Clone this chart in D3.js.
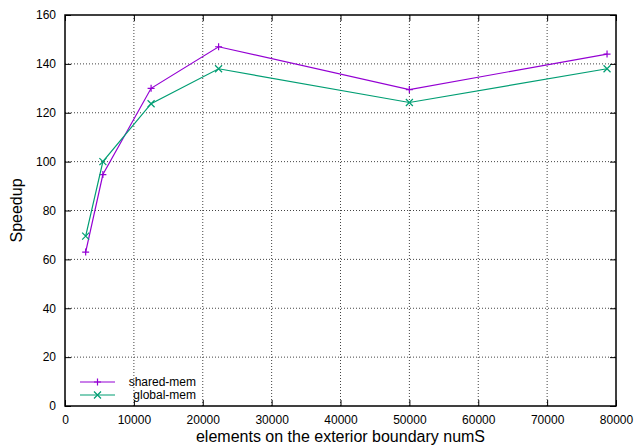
<!DOCTYPE html>
<html><head><meta charset="utf-8">
<script src="https://cdn.jsdelivr.net/npm/d3@7"></script>
<style>body{margin:0;background:#fff}svg{display:block}text{font-family:"Liberation Sans",Arial,sans-serif}</style>
</head><body><svg id="c" width="637" height="448"></svg>
<script>
const xNums = [3000, 5500, 12500, 22300, 50000, 78700];
const sharedMem = [63, 94.7, 130, 147, 129.5, 144];
const globalMem = [69.5, 100, 123.7, 138, 124.2, 138];
const seriesNames = ["shared-mem", "global-mem"];
const xTicks = [0,10000,20000,30000,40000,50000,60000,70000,80000];
const yTicks = [0,20,40,60,80,100,120,140,160];

const svg = d3.select("#c");
const L=65,R=616,T=15,B=406;
const x = d3.scaleLinear().domain([0,80000]).range([L,R]);
const y = d3.scaleLinear().domain([0,160]).range([B,T]);

// grid
const g = svg.append("g");
xTicks.slice(1,-1).forEach(t=>g.append("line").attr("x1",x(t)).attr("x2",x(t)).attr("y1",T).attr("y2",B)
  .attr("stroke","#444").attr("stroke-width",1).attr("stroke-dasharray","1,2"));
yTicks.slice(1,-1).forEach(t=>g.append("line").attr("x1",L).attr("x2",R).attr("y1",y(t)).attr("y2",y(t))
  .attr("stroke","#444").attr("stroke-width",1).attr("stroke-dasharray","1,2"));

// axes
const ax = svg.append("g").attr("transform",`translate(0,${B})`).call(d3.axisBottom(x).tickValues(xTicks).tickFormat(d3.format("d")).tickSize(-6).tickPadding(9));
const ay = svg.append("g").attr("transform",`translate(${L},0)`).call(d3.axisLeft(y).tickValues(yTicks).tickSize(-6).tickPadding(9));
const axT = svg.append("g").attr("transform",`translate(0,${T})`).call(d3.axisTop(x).tickValues(xTicks).tickFormat("").tickSize(-6));
const ayR = svg.append("g").attr("transform",`translate(${R},0)`).call(d3.axisRight(y).tickValues(yTicks).tickFormat("").tickSize(-6));
[ax,ay,axT,ayR].forEach(a=>{a.select(".domain").remove();a.selectAll("line").attr("stroke","#000");a.selectAll("text").attr("font-size",12).attr("fill","#000").attr("font-family","Liberation Sans, Arial, sans-serif");});
svg.append("rect").attr("x",L).attr("y",T).attr("width",R-L).attr("height",B-T).attr("fill","none").attr("stroke","#000").attr("stroke-width",1.5);

// titles
svg.append("text").attr("x",(L+R)/2).attr("y",442).attr("text-anchor","middle").attr("font-size",16).text("elements on the exterior boundary numS");
svg.append("text").attr("transform",`translate(22,${(T+B)/2}) rotate(-90)`).attr("text-anchor","middle").attr("font-size",16).text("Speedup");

const colors = ["#9400d3","#009e73"];
const data = [sharedMem, globalMem];
const line = d3.line().x((d,i)=>x(xNums[i])).y(d=>y(d));
function marker(sel,type,cx,cy,col){
  const s=3.5;
  if(type===0){
    sel.append("path").attr("d",`M${cx-s},${cy}H${cx+s}M${cx},${cy-s}V${cy+s}`).attr("stroke",col).attr("stroke-width",1.2);
  } else {
    sel.append("path").attr("d",`M${cx-s},${cy-s}L${cx+s},${cy+s}M${cx-s},${cy+s}L${cx+s},${cy-s}`).attr("stroke",col).attr("stroke-width",1.2);
  }
}
data.forEach((vals,k)=>{
  svg.append("path").datum(vals).attr("d",line).attr("fill","none").attr("stroke",colors[k]).attr("stroke-width",1.2);
  vals.forEach((v,i)=>marker(svg,k,x(xNums[i]),y(v),colors[k]));
});

// legend
seriesNames.forEach((n,k)=>{
  const ly = 382 + k*13;
  svg.append("line").attr("x1",80).attr("x2",115).attr("y1",ly).attr("y2",ly).attr("stroke",colors[k]).attr("stroke-width",1.2);
  marker(svg,k,97.5,ly,colors[k]);
  svg.append("text").attr("x",196).attr("y",ly+4).attr("text-anchor","end").attr("font-size",12).text(n);
});
</script></body></html>
